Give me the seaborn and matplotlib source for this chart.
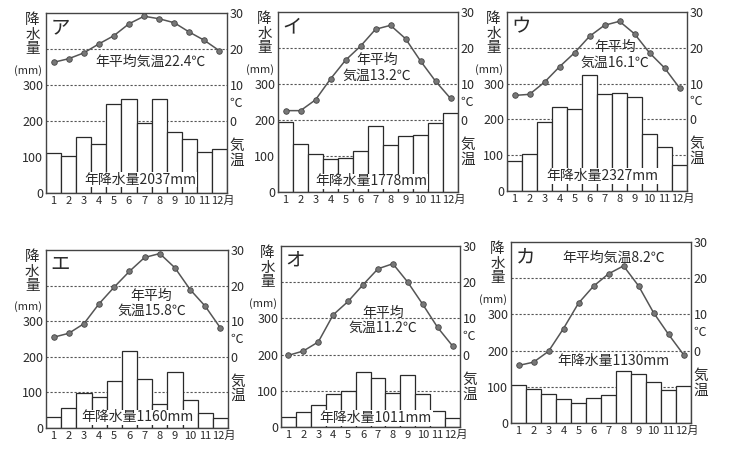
import numpy as np
import matplotlib
matplotlib.use("Agg")
import matplotlib.pyplot as plt
import matplotlib.transforms as mtransforms
import seaborn as sns

# 月ラベル
months = ["1", "2", "3", "4", "5", "6", "7", "8", "9", "10", "11", "12月"]

# ア
rain_a = [112, 103, 155, 137, 246, 260, 195, 260, 170, 151, 114, 123]
temp_a = [16.3, 17.3, 18.9, 21.4, 23.7, 27.0, 29.1, 28.4, 27.3, 24.7, 22.4, 19.5]
# イ
rain_i = [195, 132, 106, 92, 95, 113, 183, 130, 155, 159, 192, 220]
temp_i = [2.6, 2.6, 5.6, 11.4, 16.6, 20.5, 25.2, 26.3, 22.6, 16.4, 10.8, 6.0]
# ウ
rain_u = [83, 102, 193, 235, 229, 323, 270, 273, 263, 159, 122, 72]
temp_u = [6.7, 7.0, 10.4, 14.7, 18.6, 23.2, 26.3, 27.4, 23.9, 18.6, 14.4, 8.8]
# エ
rain_e = [30, 55, 97, 88, 132, 216, 139, 67, 156, 78, 43, 29]
temp_e = [5.5, 6.6, 9.3, 14.9, 19.6, 24.0, 27.9, 29.0, 25.0, 18.9, 14.2, 8.1]
# オ
rain_o = [29, 42, 62, 92, 100, 153, 134, 93, 144, 92, 44, 24]
temp_o = [-0.2, 1.0, 3.5, 11.0, 14.7, 19.3, 23.7, 25.1, 20.0, 13.9, 7.5, 2.4]
# カ
rain_ka = [106, 93, 81, 65, 55, 70, 76, 145, 135, 114, 92, 103]
temp_ka = [-4.1, -3.2, -0.2, 6.1, 13.1, 17.8, 21.2, 23.4, 17.9, 10.5, 4.5, -1.1]

letters = ["ア", "イ", "ウ", "エ", "オ", "カ"]
temp_labels = ["年平均気温22.4℃", "年平均\n気温13.2℃", "年平均\n気温16.1℃",
               "年平均\n気温15.8℃", "年平均\n気温11.2℃", "年平均気温8.2℃"]
rain_labels = ["年降水量2037mm", "年降水量1778mm", "年降水量2327mm",
               "年降水量1160mm", "年降水量1011mm", "年降水量1130mm"]

sns.set_style("white")
plt.rcParams["font.family"] = ["Noto Sans CJK JP", "DejaVu Sans"]

W, H = 730, 449
fig = plt.figure(figsize=(7.3, 4.49), dpi=100)

INK = "#2a2a2a"

# 枠の位置 (px): left, right, top, bottom
boxes = [(46, 227, 13, 193), (278, 458, 12, 192), (507, 687, 12, 191),
         (46, 228, 250, 428), (281, 460, 246, 427), (511, 691, 242, 423)]
# 注記の位置 (axes fraction)
temp_pos = [(0.575, 0.73), (0.55, 0.69), (0.60, 0.76), (0.58, 0.70), (0.57, 0.59), (0.57, 0.91)]
rain_pos = [(0.52, 0.075), (0.52, 0.06), (0.53, 0.083), (0.50, 0.06), (0.53, 0.05), (0.57, 0.34)]

rains = [rain_a, rain_i, rain_u, rain_e, rain_o, rain_ka]
temps = [temp_a, temp_i, temp_u, temp_e, temp_o, temp_ka]

for k in range(6):
    l, r, t, b = boxes[k]
    ax = fig.add_axes([l / W, (H - b) / H, (r - l) / W, (b - t) / H])
    for g in [100, 200, 300, 400]:
        ax.axhline(g, color="#555555", lw=0.8, ls=(0, (2, 1.6)), zorder=0.5)
    sns.barplot(x=months, y=rains[k], color="white", edgecolor=INK, linewidth=0.9,
                width=1.0, saturation=1, ax=ax, zorder=1)
    ax.set_xlim(-0.5, 11.5)
    ax.set_ylim(0, 500)
    ax.set_yticks([0, 100, 200, 300])
    ax.set_xlabel("")
    ax.set_ylabel("")
    ax.set_xticks(np.arange(-0.5, 12, 1), minor=True)
    ax.tick_params(axis="y", which="major", length=0, labelsize=9, colors=INK, pad=2)
    ax.tick_params(axis="x", which="major", length=0, labelsize=8, colors=INK, pad=2)
    ax.tick_params(axis="x", which="minor", direction="in", length=3, color=INK, bottom=True)
    # 「12月」を少し右へ
    lab = ax.get_xticklabels()[-1]
    lab.set_transform(lab.get_transform() + mtransforms.ScaledTranslation(3 / 100, 0, fig.dpi_scale_trans))
    for s in ax.spines.values():
        s.set_color("#444444")
        s.set_linewidth(1.0)

    ax2 = ax.twinx()
    sns.lineplot(x=np.arange(12), y=temps[k], ax=ax2, color="#555555", lw=1.1,
                 marker="o", markersize=4, markerfacecolor="#777777",
                 markeredgecolor="#444444", markeredgewidth=0.6)
    ax2.set_ylim(-20, 30)
    ax2.set_yticks([0, 10, 20, 30])
    ax2.set_ylabel("")
    ax2.tick_params(axis="y", length=0, labelsize=9, colors=INK, pad=2)
    for s in ax2.spines.values():
        s.set_visible(False)

    # 右側の ℃ と 気温
    tr = mtransforms.blended_transform_factory(ax2.transAxes, ax2.transData)
    ax2.text(1.015, 5, "℃", transform=tr, ha="left", va="center", fontsize=9, color=INK)
    ax2.text(1.015, -9, "気\n温", transform=tr, ha="left", va="center", fontsize=10.5,
             color=INK, linespacing=1.05)

    # 左側の 降水量 (mm)
    ax.text(-0.075, 1.0, "降\n水\n量", transform=ax.transAxes, ha="center", va="top",
            fontsize=10.5, color=INK, linespacing=1.05)
    ax.text(-0.02, 0.68, "(mm)", transform=ax.transAxes, ha="right", va="center",
            fontsize=8, color=INK)

    ax.text(0.08, 0.92, letters[k], transform=ax.transAxes, ha="center", va="center",
            fontsize=14, color=INK)
    ax2.text(temp_pos[k][0], temp_pos[k][1], temp_labels[k], transform=ax2.transAxes,
             ha="center", va="center", fontsize=10, color=INK, linespacing=1.1)
    ax2.text(rain_pos[k][0], rain_pos[k][1], rain_labels[k], transform=ax2.transAxes,
             ha="center", va="center", fontsize=10, color=INK,
             bbox=dict(facecolor="white", edgecolor="none", pad=0.5))

fig.savefig("out.png", dpi=100)
